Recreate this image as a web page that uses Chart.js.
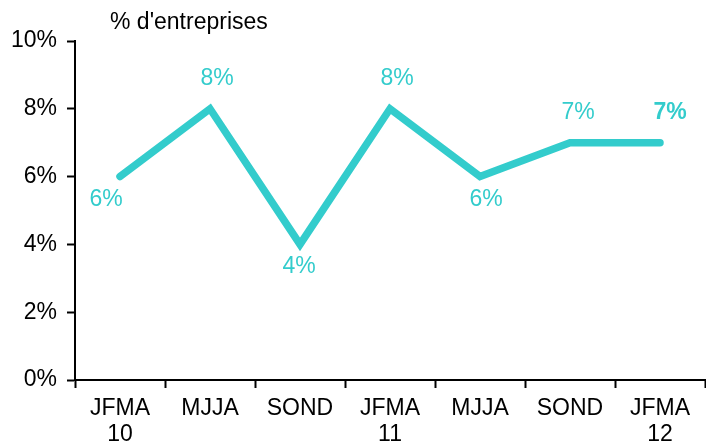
<!DOCTYPE html>
<html lang="fr">
<head>
  <meta charset="UTF-8">
  <title>% d'entreprises</title>
  <style>
    body { margin: 0; background: #fff; }
    .chart-box { width: 706px; height: 443px; position: relative; }
  </style>
  <script src="https://cdn.jsdelivr.net/npm/chart.js"></script>
</head>
<body>
  <div class="chart-box">
    <canvas id="entreprisesChart"></canvas>
  </div>

  <script>
    const periodes = [['JFMA', '10'], ['MJJA', ''], ['SOND', ''], ['JFMA', '11'], ['MJJA', ''], ['SOND', ''], ['JFMA', '12']];
    const valeurs = [6, 8, 4, 8, 6, 7, 7];
    const graduations = [0, 2, 4, 6, 8, 10];
    // ou placer l'etiquette : dessus / dessous
    const placement = ['below', 'above', 'below', 'above', 'below', 'above', 'above'];

    const couleur = '#33CCCC';
    const police = '"Liberation Sans", Arial, sans-serif';

    const etiquettes = {
      id: 'etiquettes',
      afterDatasetsDraw(chart, args, opts) {
        const ctx = chart.ctx;
        const pts = chart.getDatasetMeta(0).data;
        ctx.save();
        ctx.textAlign = 'center';
        ctx.textBaseline = 'alphabetic';
        pts.forEach((p, i) => {
          const last = i === pts.length - 1;
          ctx.font = (last ? 'bold ' : '') + '23px ' + police;
          ctx.fillStyle = couleur;
          const dy = placement[i] === 'below' ? 29 : -24;
          ctx.fillText(valeurs[i] + '%', p.x + opts.decalage[i], p.y + dy);
        });
        // titre de l'axe
        ctx.font = '23px ' + police;
        ctx.fillStyle = '#000';
        ctx.textAlign = 'left';
        ctx.fillText("% d'entreprises", chart.chartArea.left + 35, 29);
        ctx.restore();
      }
    };

    new Chart(document.getElementById('entreprisesChart'), {
      type: 'line',
      data: {
        labels: periodes,
        datasets: [{
          data: valeurs,
          borderColor: couleur,
          borderWidth: 7.5,
          borderCapStyle: 'round',
          borderJoinStyle: 'miter',
          pointRadius: 0,
          tension: 0,
          fill: false
        }]
      },
      options: {
        responsive: true,
        maintainAspectRatio: false,
        animation: false,
        layout: { padding: { top: 41, right: 1, left: 0, bottom: 0 } },
        plugins: {
          legend: { display: false },
          tooltip: { enabled: false },
          etiquettes: { decalage: [-14, 7, -1, 7, 6, 8, 10] }
        },
        scales: {
          x: {
            offset: true,
            afterFit(scale) { scale.height = 63; },
            grid: {
              offset: true,
              drawOnChartArea: false,
              drawTicks: true,
              tickLength: 8,
              tickWidth: 2,
              tickColor: '#000'
            },
            border: { color: '#000', width: 2 },
            ticks: {
              color: '#000',
              padding: 8,
              maxRotation: 0,
              autoSkip: false,
              font: { family: police, size: 23, lineHeight: 1.13 }
            }
          },
          y: {
            min: 0,
            max: 10,
            afterFit(scale) { scale.width = 75; },
            afterBuildTicks(scale) { scale.ticks = graduations.map(v => ({ value: v })); },
            grid: {
              drawOnChartArea: false,
              drawTicks: true,
              tickLength: 8,
              tickWidth: 2,
              tickColor: '#000'
            },
            border: { color: '#000', width: 2 },
            ticks: {
              color: '#000',
              padding: 10,
              callback: v => v + '%',
              font: { family: police, size: 23 }
            }
          }
        }
      },
      plugins: [etiquettes]
    });
  </script>
</body>
</html>
